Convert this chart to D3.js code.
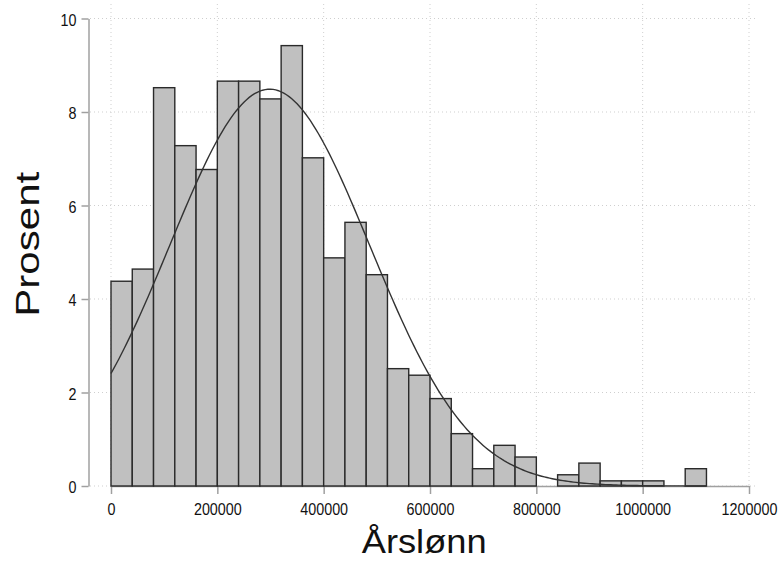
<!DOCTYPE html>
<html>
<head>
<meta charset="utf-8">
<script src="https://cdn.jsdelivr.net/npm/d3@7"></script>
<style>
  body { margin: 0; background: #fff; }
  text { font-family: "Liberation Sans", Arial, sans-serif; fill: #111; }
</style>
</head>
<body>
<svg id="chart"></svg>
<script>
// histogram of annual salary, percent per 40000 bin
var binWidth = 40000;
var binStart = [0, 40000, 80000, 120000, 160000, 200000, 240000, 280000, 320000, 360000,
    400000, 440000, 480000, 520000, 560000, 600000, 640000, 680000, 720000, 760000,
    800000, 840000, 880000, 920000, 960000, 1000000, 1040000, 1080000];
var percent = [4.38, 4.64, 8.52, 7.28, 6.77, 8.66, 8.66, 8.28, 9.42, 7.02,
    4.88, 5.64, 4.52, 2.51, 2.37, 1.87, 1.12, 0.37, 0.87, 0.62,
    0, 0.24, 0.49, 0.11, 0.11, 0.11, 0, 0.37];
var xTicks = [0, 200000, 400000, 600000, 800000, 1000000, 1200000];
var yTicks = [0, 2, 4, 6, 8, 10];
// fitted normal overlay
var fitMean = 298500,
    fitSd = 188000;

var width = 778,
    height = 563;

var svg = d3.select('#chart')
    .attr('width', width)
    .attr('height', height);

var x = d3.scaleLinear()
    .domain([0, 1200000])
    .range([111, 749]);

var y = d3.scaleLinear()
    .domain([0, 10])
    .range([486, 18.5]);

// grid
var grid = svg.append('g');
grid.selectAll('line.h')
    .data(yTicks).enter()
    .append('line')
    .attr('x1', 90).attr('x2', 757)
    .attr('y1', d => y(d)).attr('y2', d => y(d));
grid.selectAll('line.v')
    .data(xTicks).enter()
    .append('line')
    .attr('x1', d => x(d)).attr('x2', d => x(d))
    .attr('y1', 4).attr('y2', 486);
grid.selectAll('line')
    .attr('stroke', '#cfcfcf')
    .attr('stroke-width', 1)
    .attr('stroke-dasharray', '1,3');

// axes
var xAxis = svg.append('g')
    .attr('transform', 'translate(0,486)')
    .call(d3.axisBottom(x).tickValues(xTicks).tickFormat(d3.format('d')).tickSize(8).tickSizeOuter(0));
xAxis.selectAll('text')
    .attr('y', 29)
    .attr('dy', null)
    .attr('transform', 'scale(0.88,1)')
    .style('font-size', '16.3px');

var yAxis = svg.append('g')
    .attr('transform', 'translate(88.5,0)')
    .call(d3.axisLeft(y).tickValues(yTicks).tickSize(7).tickSizeOuter(0));
yAxis.selectAll('text')
    .attr('x', -12 / 0.88)
    .attr('dy', '0.42em')
    .attr('transform', 'scale(0.88,1)')
    .style('font-size', '16.3px');

[xAxis, yAxis].forEach(function (a) {
    a.selectAll('path, line')
        .attr('stroke', '#a0a0a0')
        .attr('stroke-width', 1.5);
    a.selectAll('text').attr('fill', '#111');
});

// bars
svg.append('g')
    .selectAll('rect')
    .data(binStart.map((s, i) => ({ start: s, value: percent[i] })).filter(d => d.value > 0))
    .enter().append('rect')
    .attr('x', d => x(d.start))
    .attr('y', d => y(d.value))
    .attr('width', d => x(d.start + binWidth) - x(d.start))
    .attr('height', d => y(0) - y(d.value))
    .attr('fill', '#c0c0c0')
    .attr('stroke', '#2a2a2a')
    .attr('stroke-width', 1.4);

// normal curve scaled to percent per bin
function normalPct(v) {
    var z = (v - fitMean) / fitSd;
    return 100 * binWidth / (fitSd * Math.sqrt(2 * Math.PI)) * Math.exp(-0.5 * z * z);
}
var curveX = d3.range(0, 1120001, 5000);
var line = d3.line()
    .x(d => x(d))
    .y(d => y(normalPct(d)))
    .curve(d3.curveLinear);
svg.append('path')
    .datum(curveX)
    .attr('d', line)
    .attr('fill', 'none')
    .attr('stroke', '#333')
    .attr('stroke-width', 1.4);

// axis titles
svg.append('text')
    .attr('x', 424.2)
    .attr('y', 553.3)
    .attr('text-anchor', 'middle')
    .attr('textLength', 125)
    .attr('lengthAdjust', 'spacingAndGlyphs')
    .style('font-size', '32.6px')
    .text('Årslønn');

svg.append('text')
    .attr('transform', 'translate(39.3,244.2) rotate(-90)')
    .attr('text-anchor', 'middle')
    .attr('textLength', 145)
    .attr('lengthAdjust', 'spacingAndGlyphs')
    .style('font-size', '33.5px')
    .text('Prosent');
</script>
</body>
</html>
